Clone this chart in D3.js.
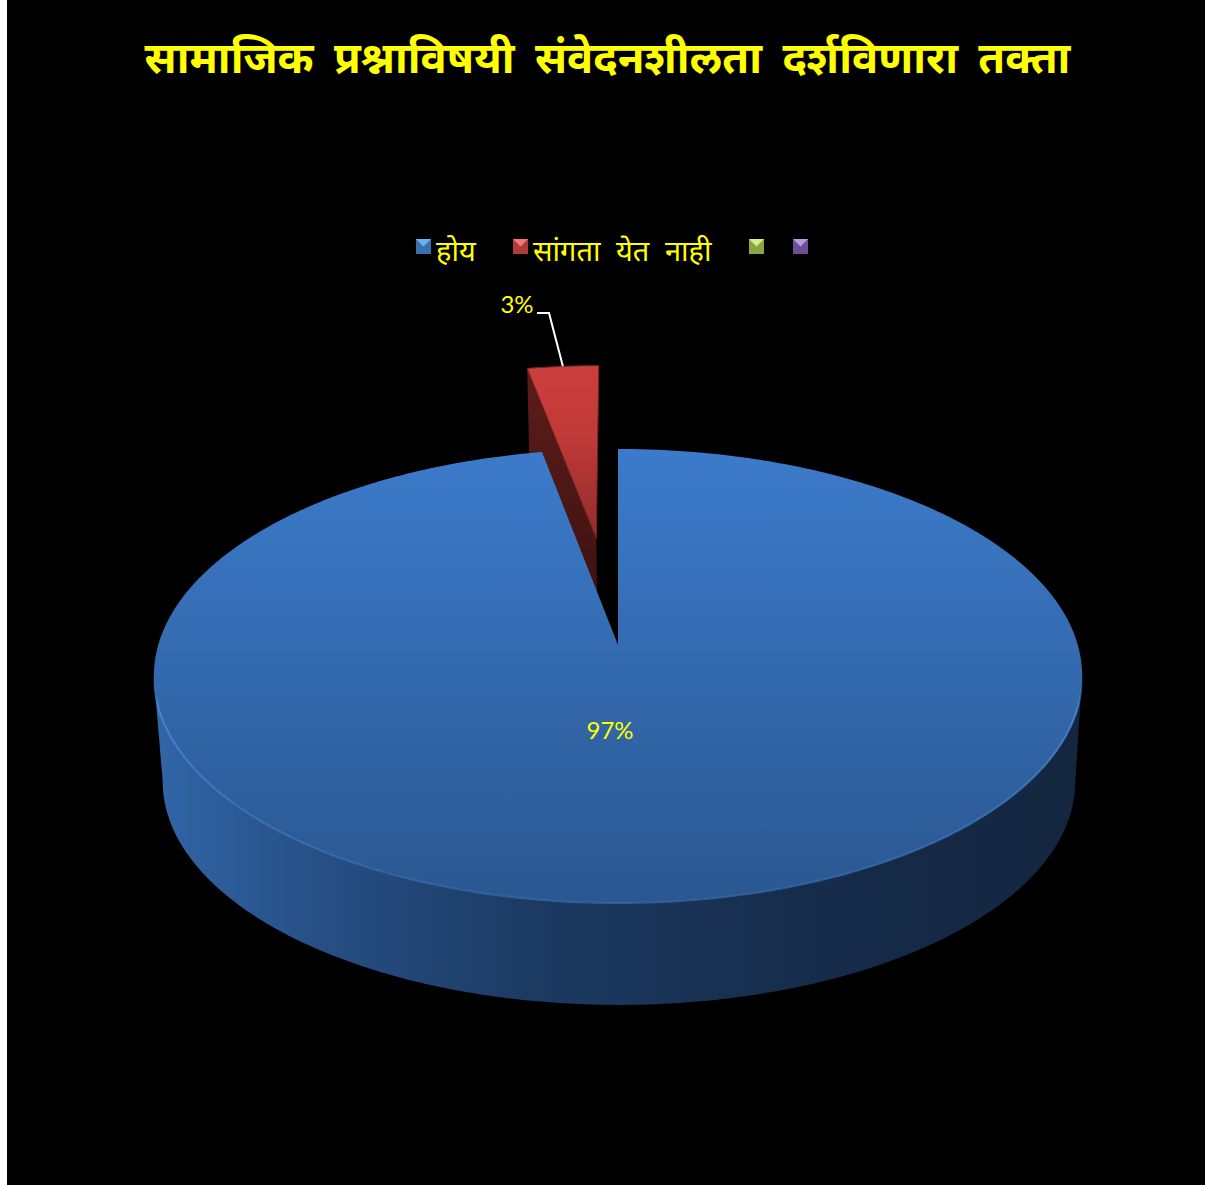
<!DOCTYPE html>
<html lang="mr">
<head>
<meta charset="utf-8">
<title>तक्ता</title>
<script src="https://cdn.jsdelivr.net/npm/d3@7"></script>
<style>
  html, body { margin: 0; background: #fff; }
  svg { display: block; }
  text { font-family: "Noto Sans Devanagari", "Lohit Devanagari", "Noto Sans", Lato, sans-serif; fill: #ffff00; }
</style>
</head>
<body>
<svg id="chart" width="1205" height="1185"></svg>
<script>
var titleText = 'सामाजिक प्रश्नाविषयी संवेदनशीलता दर्शविणारा तक्ता';
var categories = ['होय', 'सांगता येत नाही', '', ''];
var values = [97, 3, 0, 0];
var valueLabels = ['97%', '3%'];
var legendColors = ['#3b70b0', '#b23a38', '#8aa544', '#6c4e94'];
var legendLights = ['#6cb0ee', '#f07a78', '#d4ee8a', '#b69ae6'];
var legendX = [416, 513, 749, 793];

var svg = d3.select('#chart');
var defs = svg.append('defs');

function linearGrad(id, x1, y1, x2, y2, stops) {
    var g = defs.append('linearGradient').attr('id', id)
        .attr('gradientUnits', 'userSpaceOnUse')
        .attr('x1', x1).attr('y1', y1).attr('x2', x2).attr('y2', y2);
    stops.forEach(function(s) {
        g.append('stop').attr('offset', s[0]).attr('stop-color', s[1]).attr('stop-opacity', s[2] === undefined ? 1 : s[2]);
    });
}

linearGrad('blueTop', 0, 449, 0, 903, [[0, '#3c7bcb'], [1, '#2a5790']]);
linearGrad('blueWall', 154, 0, 1083, 0, [[0, '#3166a8'], [0.15, '#28528a'], [0.4, '#1c3b63'], [0.7, '#162c4b'], [1, '#14263f']]);
linearGrad('blueRim', 0, 676, 0, 903, [[0, '#4d8ee0', 0], [0.15, '#4d8ee0', 0.8], [1, '#3a70b8', 0.6]]);
linearGrad('redTop', 0, 365, 0, 541, [[0, '#cc3e3c'], [0.4, '#c03a38'], [1, '#8f2b29']]);
linearGrad('redWall', 0, 368, 0, 600, [[0, '#5c1c1a'], [1, '#3e1211']]);

// background, with the white strip down the left side
svg.append('rect').attr('width', 1205).attr('height', 1185).attr('fill', '#fff');
svg.append('rect').attr('x', 7).attr('width', 1198).attr('height', 1185).attr('fill', '#000');

// title
svg.append('text').attr('x', 607.5).attr('y', 73)
    .attr('text-anchor', 'middle')
    .style('font-size', '43.5px').style('font-weight', 'bold').style('word-spacing', '9px')
    .text(titleText);

// legend
categories.forEach(function(c, i) {
    var x = legendX[i], y = 239, s = 15;
    svg.append('rect').attr('x', x).attr('y', y).attr('width', s).attr('height', s).attr('fill', legendColors[i]);
    svg.append('path')
        .attr('d', d3.line()([[x, y], [x + s, y], [x + s / 2, y + s / 2]]) + 'Z')
        .attr('fill', legendLights[i]);
    if (c) {
        svg.append('text').attr('x', x + 20).attr('y', 261)
            .style('font-size', '29px').style('word-spacing', '8px')
            .text(c);
    }
});

// perspective projection of the pie plane: unit disc -> screen
var persp = 0.1366;
var topPlane = {cx: 618, cy: 645, rx: 459.8, ry: 222.8};
var basePlane = {cx: 619, cy: 751, rx: 452, ry: 219.2};
var explode = 0.515;

function project(plane, u, v) {
    var w = 1 + persp * v;
    return [plane.cx + plane.rx * u / w, plane.cy - plane.ry * v / w];
}

var arcs = d3.pie().sort(null)(values);
var line = d3.line();

function rim(plane, a0, a1, ox, oy) {
    var n = Math.max(2, Math.ceil(Math.abs(a1 - a0) / 0.01));
    var t = d3.scaleLinear().domain([0, n]).range([a0, a1]);
    return d3.range(n + 1).map(function(i) {
        return project(plane, (ox || 0) + Math.sin(t(i)), (oy || 0) + Math.cos(t(i)));
    });
}

// pie order puts the big slice first; it runs clockwise from 12 o'clock
var big = arcs[0], small = arcs[1];
var smallMid = (small.startAngle + small.endAngle) / 2;
var ox = explode * Math.sin(smallMid) - 0.002, oy = explode * Math.cos(smallMid);

// exploded slice: outer wall side, then top face
var sLeftTop = project(topPlane, ox + Math.sin(small.startAngle), oy + Math.cos(small.startAngle));
var sLeftBase = project(basePlane, ox + Math.sin(small.startAngle), oy + Math.cos(small.startAngle));
var sApexTop = project(topPlane, ox, oy);
var sApexBase = project(basePlane, ox, oy);
svg.append('path')
    .attr('d', line([sLeftTop, sApexTop, sApexBase, sLeftBase]) + 'Z')
    .attr('fill', 'url(#redWall)');
svg.append('path')
    .attr('d', line([sApexTop].concat(rim(topPlane, small.startAngle, small.endAngle, ox, oy))) + 'Z')
    .attr('fill', 'url(#redTop)')
    .attr('stroke', '#7a2422').attr('stroke-width', 1);

// big slice: front wall between the two silhouette points, then top face
var edge = Math.acos(-persp);
var a0 = edge, a1 = 2 * Math.PI - edge;
var wallTop = rim(topPlane, a0, a1);
var wallBase = rim(basePlane, a0, a1).reverse();
svg.append('path')
    .attr('d', line(wallTop.concat(wallBase)) + 'Z')
    .attr('fill', 'url(#blueWall)');

var bigRim = rim(topPlane, big.startAngle, big.endAngle);
svg.append('path')
    .attr('d', line([project(topPlane, 0, 0)].concat(bigRim)) + 'Z')
    .attr('fill', 'url(#blueTop)');
svg.append('path')
    .attr('d', line(wallTop))
    .attr('fill', 'none')
    .attr('stroke', 'url(#blueRim)').attr('stroke-width', 2);

// data labels
var labelPos = project(topPlane, -0.0165, -0.368);
svg.append('text').attr('x', labelPos[0]).attr('y', labelPos[1] + 8)
    .attr('text-anchor', 'middle')
    .style('font-family', 'Lato, sans-serif').style('font-size', '24px')
    .text(valueLabels[0]);

var leaderEnd = project(topPlane, ox + Math.sin(smallMid) , oy + Math.cos(smallMid));
svg.append('path')
    .attr('d', line([[537, 313], [549, 313], leaderEnd]))
    .attr('fill', 'none').attr('stroke', '#fff').attr('stroke-width', 2);
svg.append('text').attr('x', 517).attr('y', 313)
    .attr('text-anchor', 'middle')
    .style('font-family', 'Lato, sans-serif').style('font-size', '24px')
    .text(valueLabels[1]);
</script>
</body>
</html>
